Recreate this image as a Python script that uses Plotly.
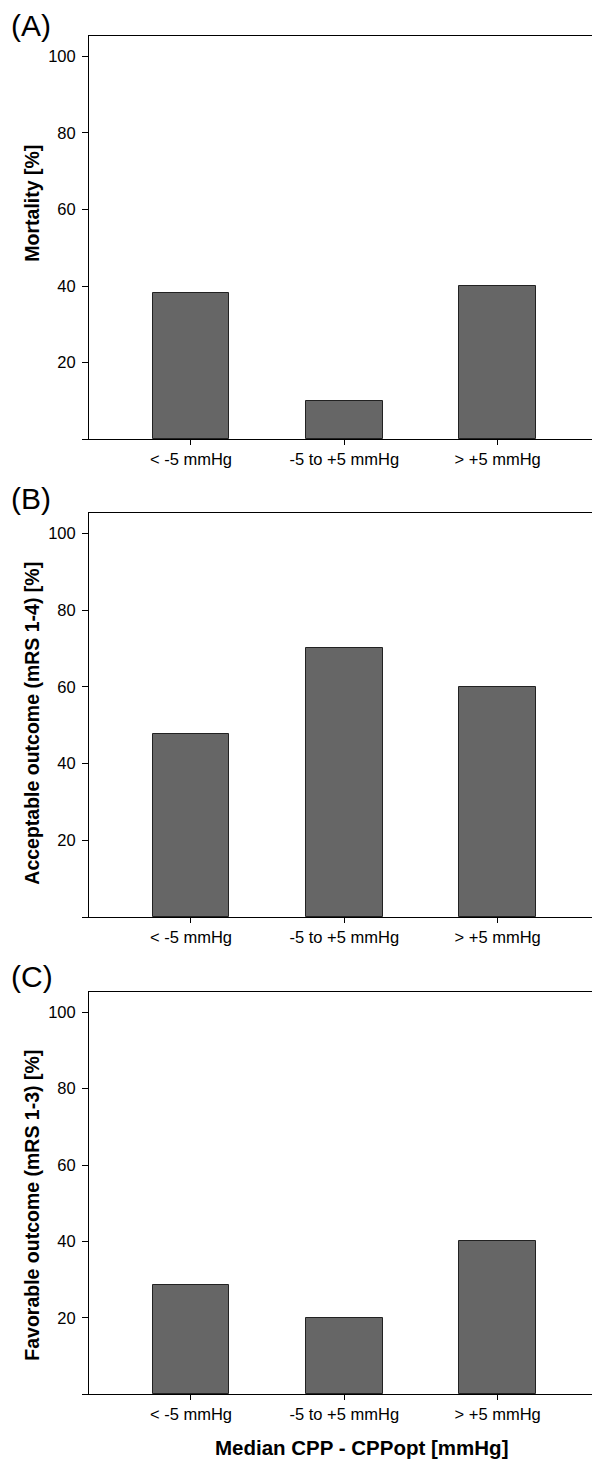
import plotly.graph_objects as go

categories = ["< -5 mmHg", "-5 to +5 mmHg", "> +5 mmHg"]
mortality = [38.1, 10.0, 40.0]
acceptable = [47.6, 70.0, 60.0]
favorable = [28.6, 20.0, 40.0]
panel_labels = ["(A)", "(B)", "(C)"]
y_titles = ["Mortality [%]", "Acceptable outcome (mRS 1-4) [%]", "Favorable outcome (mRS 1-3) [%]"]
x_title = "Median CPP - CPPopt [mmHg]"
y_tickvals = [0, 20, 40, 60, 80, 100]
y_ticktext = ["", "20", "40", "60", "80", "100"]

OFF = 8  # default page body margin
W, H = 600 - OFF, 1467 - OFF
FONT = "Liberation Sans, Arial, Helvetica, sans-serif"

def px_x(p):
    return (p - OFF) / W

def px_y(p):
    return 1 - (p - OFF) / H

# pixel layout of each panel in the target page: (top, bottom)
panels_px = [(36, 439.3), (513, 917), (992, 1394.3)]
title_centers = [203, 723, 1205]
label_centers = [25, 498.5, 976]
left_px, right_px = 89, 595

fig = go.Figure()
series = [mortality, acceptable, favorable]
for i, vals in enumerate(series):
    n = "" if i == 0 else str(i + 1)
    fig.add_trace(go.Bar(
        x=list(range(len(categories))), y=vals, width=0.5,
        marker=dict(color="#666666", line=dict(color="#222222", width=1)),
        xaxis="x" + n, yaxis="y" + n, showlegend=False, hoverinfo="skip"))
    top, bot = panels_px[i]
    fig.layout["xaxis" + n] = dict(
        domain=[px_x(left_px), px_x(right_px)], anchor="y" + n,
        range=[-0.665, 2.635], tickvals=[0, 1, 2], ticktext=categories,
        ticks="outside", ticklen=5, tickwidth=1, tickcolor="black",
        showline=True, linecolor="black", linewidth=1, mirror=True,
        showgrid=False, zeroline=False,
        tickfont=dict(family=FONT, size=16.5, color="black"))
    fig.layout["yaxis" + n] = dict(
        domain=[px_y(bot), px_y(top)], anchor="x" + n,
        range=[0, 105.3], tickvals=y_tickvals, ticktext=y_ticktext,
        ticks="outside", ticklen=6, tickwidth=1, tickcolor="black",
        ticklabelstandoff=3,
        showline=True, linecolor="black", linewidth=1, mirror=True,
        showgrid=False, zeroline=False,
        tickfont=dict(family=FONT, size=16.5, color="black"))

annotations = []
for i in range(3):
    annotations.append(dict(
        text=panel_labels[i], x=0, y=px_y(label_centers[i]), xref="paper", yref="paper",
        xanchor="left", yanchor="middle", showarrow=False, xshift=1,
        font=dict(family=FONT, size=30, color="black")))
    annotations.append(dict(
        text="<b>" + y_titles[i] + "</b>", x=px_x(31.7), y=px_y(title_centers[i]),
        xref="paper", yref="paper", xanchor="center", yanchor="middle",
        textangle=-90, showarrow=False,
        font=dict(family=FONT, size=19.5, color="black")))
annotations.append(dict(
    text="<b>" + x_title + "</b>", x=px_x(361), y=px_y(1447), xref="paper", yref="paper",
    xanchor="center", yanchor="middle", showarrow=False,
    font=dict(family=FONT, size=20.5, color="black")))

fig.update_layout(
    width=W, height=H, margin=dict(l=0, r=0, t=0, b=0),
    paper_bgcolor="white", plot_bgcolor="white",
    annotations=annotations, bargap=0)

fig.write_html("out.html")
